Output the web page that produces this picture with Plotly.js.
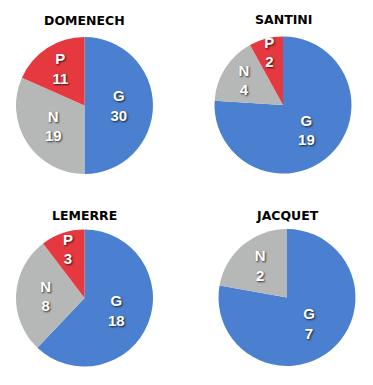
<!DOCTYPE html>
<html>
<head>
<meta charset="utf-8">
<script src="https://cdn.plot.ly/plotly-3.0.1.min.js"></script>
<style>html,body{margin:0;padding:0;background:#fff;}#chart{width:373px;height:385px;}</style>
</head>
<body>
<div id="chart"></div>
<script>
const coaches = ["DOMENECH", "SANTINI", "LEMERRE", "JACQUET"];
const categories = ["G", "N", "P"];
const domenech = [30, 19, 11];
const santini = [19, 4, 2];
const lemerre = [18, 8, 3];
const jacquet = [7, 2, 0];

const colors = ["#4a80cf", "#b6b8b8", "#e6393f"];
const W = 373, H = 385;
// pie centres (px) and radius
const centres = [[84.5, 105.5], [283, 105], [84.5, 298], [287, 297.5]];
const R = 68.5;
const series = [domenech, santini, lemerre, jacquet];

const traces = series.map((vals, i) => {
  const [cx, cy] = centres[i];
  return {
    type: "pie",
    labels: categories,
    values: vals,
    sort: false,
    direction: "clockwise",
    rotation: 0,
    hole: 0,
    marker: { colors: colors, line: { width: 0 } },
    texttemplate: vals.map(v => v > 0 ? "%{label}<br>%{value}" : ""),
    textposition: "inside",
    insidetextorientation: "horizontal",
    insidetextfont: { family: "Liberation Sans, Arial, sans-serif", size: 15, color: "#ffffff", weight: "bold", shadow: "1px 1px 2px rgba(0,0,0,0.75)" },
    showlegend: false,
    hoverinfo: "none",
    domain: {
      x: [(cx - R) / W, (cx + R) / W],
      y: [1 - (cy + R) / H, 1 - (cy - R) / H]
    }
  };
});

const titlePos = [[84.5, 20], [283, 19], [84.5, 215], [287, 215]];
const annotations = coaches.map((c, i) => ({
  text: c,
  x: titlePos[i][0] / W,
  y: 1 - titlePos[i][1] / H,
  xref: "paper", yref: "paper",
  xanchor: "center", yanchor: "middle",
  showarrow: false,
  font: { family: "DejaVu Sans, sans-serif", size: 12.5, color: "#000", weight: "bold" }
}));

Plotly.newPlot("chart", traces, {
  width: W, height: H,
  margin: { l: 0, r: 0, t: 0, b: 0 },
  paper_bgcolor: "#ffffff",
  uniformtext: { mode: "show", minsize: 15 },
  annotations: annotations
}, { staticPlot: true });
</script>
</body>
</html>
